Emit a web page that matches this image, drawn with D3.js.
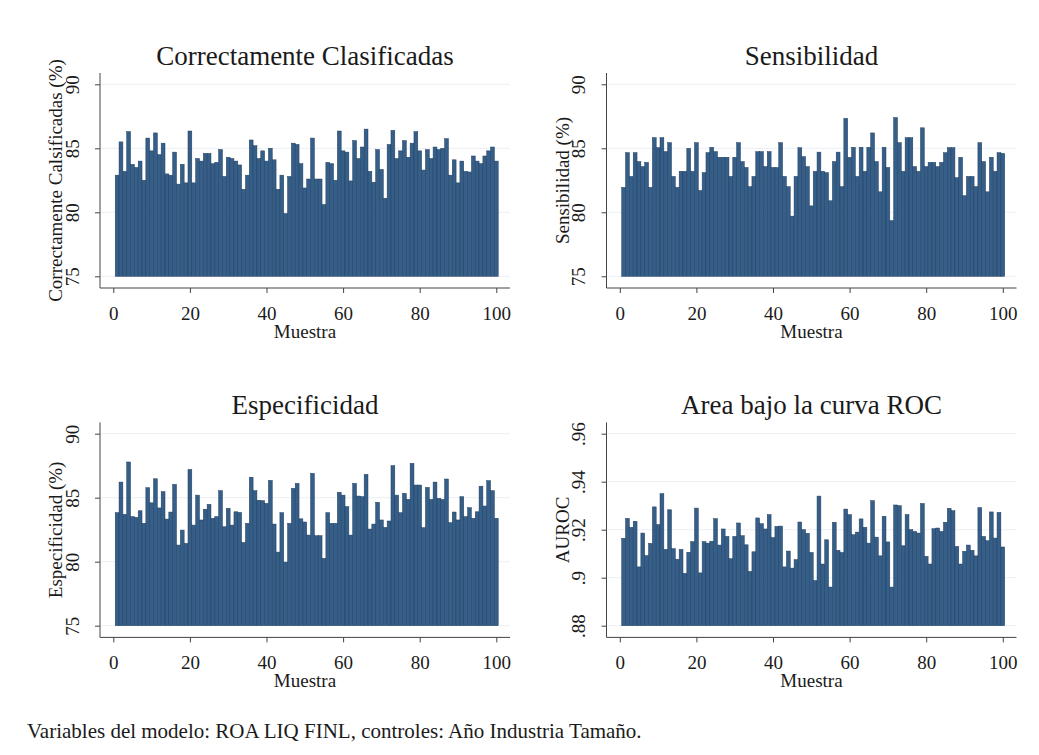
<!DOCTYPE html>
<html>
<head>
<meta charset="utf-8">
<script src="https://cdn.jsdelivr.net/npm/d3@7"></script>
<style>
  body { margin: 0; background: #fff; }
  svg { display: block; }
  text { font-family: "Liberation Serif", "Times New Roman", serif; fill: #1a1a1a; }
</style>
</head>
<body>
<svg id="chart" width="1039" height="755"></svg>
<script>
// valores (muestras 1..100)
var correctas = [82.9,85.5,83.2,86.3,83.75,83.5,84.0,82.5,85.8,84.8,86.2,84.5,85.4,83.0,82.9,84.7,82.2,83.75,82.3,86.35,
  82.3,84.2,84.0,84.6,84.6,83.8,83.9,84.9,82.8,84.3,84.2,84.0,83.7,81.8,82.9,85.65,85.2,84.2,84.8,84.0,
  85.0,84.1,81.8,82.9,79.9,82.8,85.4,85.3,83.8,81.9,82.6,85.8,82.6,82.6,80.6,83.9,83.8,82.5,86.35,84.8,
  84.7,82.45,85.6,84.2,85.1,86.5,83.2,82.35,84.9,83.35,81.1,85.3,86.4,84.2,84.8,85.6,84.3,85.4,86.3,84.8,
  83.3,84.9,84.2,85.1,84.9,85.0,85.75,82.9,84.1,82.3,84.0,83.2,83.15,84.4,84.0,83.8,84.4,84.8,85.1,84.0]
var sensibilidad = [81.95,84.66,82.8,84.66,83.96,83.57,83.9,81.95,85.83,85.05,85.83,84.74,85.44,82.8,81.95,83.2,83.2,85.0,83.2,85.44,
  81.7,83.1,84.66,85.08,84.74,84.3,84.3,84.3,82.8,84.3,85.44,83.96,83.5,82.0,82.8,84.74,84.74,83.57,84.74,83.5,
  83.5,85.44,82.8,82.0,79.7,82.8,85.05,84.35,83.57,80.5,83.2,84.7,83.2,83.1,80.9,83.96,84.7,82.0,87.34,84.3,
  85.08,82.8,85.08,83.2,85.08,86.2,83.96,81.6,85.08,83.5,79.35,87.4,85.44,83.2,85.83,85.83,83.57,83.2,86.6,83.57,
  83.9,83.9,83.57,83.9,84.66,85.05,85.05,82.7,84.3,81.3,82.8,82.8,82.0,85.44,83.96,81.6,84.3,83.2,84.66,84.6]
var especificidad = [83.83,86.22,83.7,87.79,83.52,83.46,83.98,83.0,85.78,84.6,86.48,84.2,85.47,83.33,83.88,86.04,81.3,82.47,81.43,87.2,
  82.86,85.2,83.26,84.1,84.48,83.39,83.52,85.55,82.73,84.17,82.86,83.9,83.85,81.5,83.0,86.6,85.55,84.8,84.77,84.56,
  86.35,82.94,80.75,83.83,79.97,83.0,85.73,86.12,83.35,83.1,82.08,86.9,82.03,82.03,80.26,83.83,83.0,83.0,85.42,85.2,
  84.3,82.08,86.12,85.13,85.08,86.82,82.55,82.94,84.64,83.26,82.68,83.18,87.5,85.2,83.83,85.34,84.87,87.68,85.99,85.99,
  82.66,85.8,84.87,86.22,84.95,84.87,86.46,83.05,83.88,83.26,85.08,83.52,84.22,83.39,83.9,85.9,84.35,86.33,85.55,83.39]
var auroc = [.9164,.9247,.9210,.9235,.9045,.9186,.9092,.9143,.9295,.9221,.9350,.9118,.9283,.9121,.9077,.9118,.9018,.9106,.9150,.9290,
  .9020,.9150,.9144,.9152,.9246,.9136,.9203,.9172,.9079,.9172,.9228,.9175,.9137,.9026,.9108,.9249,.9225,.9203,.9263,.9167,
  .9214,.9215,.9045,.9111,.9040,.9075,.9232,.9200,.9185,.9105,.8988,.9340,.9057,.9158,.8961,.9231,.9114,.9105,.9286,.9263,
  .9179,.9190,.9245,.9210,.9144,.9321,.9169,.9091,.9256,.9149,.8961,.9303,.9300,.9133,.9263,.9200,.9193,.9186,.9309,.9089,
  .9057,.9204,.9207,.9193,.9231,.9289,.9279,.9130,.9057,.9110,.9136,.9114,.9091,.9292,.9172,.9154,.9274,.9165,.9272,.9128]

var muestras = d3.range(1, 101)
var xTicks = [0, 20, 40, 60, 80, 100]
var pctTicks = [75, 80, 85, 90]
var aurocTicks = [.88, .9, .92, .94, .96]
var aurocLabels = [".88", ".9", ".92", ".94", ".96"]

var panels = [
  {title: "Correctamente Clasificadas", ylab: "Correctamente Calsificadas (%)", values: correctas, ticks: pctTicks, labels: pctTicks.map(String), ox: 0, oy: 0},
  {title: "Sensibilidad", ylab: "Sensibilidad (%)", values: sensibilidad, ticks: pctTicks, labels: pctTicks.map(String), ox: 506.5, oy: 0},
  {title: "Especificidad", ylab: "Especificidad (%)", values: especificidad, ticks: pctTicks, labels: pctTicks.map(String), ox: 0, oy: 349.4},
  {title: "Area bajo la curva ROC", ylab: "AUROC", values: auroc, ticks: aurocTicks, labels: aurocLabels, ox: 506.5, oy: 349.4}
]

// geometria comun de cada panel
var plot = {left: 100, right: 510, top: 73, bottom: 288}
var barFill = "#355e89"
var barStroke = "#213e5e"

var svg = d3.select("#chart")
svg.append("rect").attr("width", 1039).attr("height", 755).attr("fill", "#fff")

panels.forEach(function(p) {
  var g = svg.append("g").attr("transform", "translate(" + p.ox + "," + p.oy + ")")
  var lo = p.ticks[0], hi = p.ticks[p.ticks.length - 1]

  var x = d3.scaleLinear().domain([0, 100]).range([113.3, 496.3])
  var y = d3.scaleLinear().domain([lo, hi]).range([276.3, 84.3])

  // lineas de cuadricula
  g.append("g").selectAll("line").data(p.ticks).join("line")
    .attr("x1", plot.left + 1).attr("x2", plot.right)
    .attr("y1", d => y(d)).attr("y2", d => y(d))
    .attr("stroke", "#eaeff4").attr("stroke-width", 1)

  // barras
  g.append("g").selectAll("rect").data(p.values).join("rect")
    .attr("x", (d, i) => x(muestras[i] - 0.5))
    .attr("width", x(1.5) - x(0.5))
    .attr("y", d => y(d))
    .attr("height", d => y(lo) - y(d))
    .attr("fill", barFill)
    .attr("stroke", barStroke)
    .attr("stroke-width", 0.5)

  // eje x
  var xAxis = d3.axisBottom(x).tickValues(xTicks).tickSize(5).tickSizeOuter(0).tickPadding(4)
  var gx = g.append("g").attr("transform", "translate(0," + plot.bottom + ")").call(xAxis)
  gx.select(".domain").remove()
  gx.selectAll(".tick line").attr("stroke", "#444")
  gx.selectAll(".tick text")
    .attr("font-family", "Liberation Serif, serif").attr("font-size", 19)
    .attr("fill", "#1a1a1a").attr("y", 0).attr("dy", 32)

  // eje y
  var yAxis = d3.axisLeft(y).tickValues(p.ticks).tickFormat((d, i) => p.labels[i]).tickSize(5).tickSizeOuter(0)
  var gy = g.append("g").attr("transform", "translate(" + plot.left + ",0)").call(yAxis)
  gy.select(".domain").remove()
  gy.selectAll(".tick line").attr("stroke", "#444")
  gy.selectAll(".tick text")
    .attr("font-family", "Liberation Serif, serif").attr("font-size", 19)
    .attr("fill", "#1a1a1a")
    .attr("x", null).attr("dy", null)
    .attr("text-anchor", "middle")
    .attr("transform", "translate(-21.5,0) rotate(-90)")

  g.append("line").attr("x1", plot.left).attr("x2", plot.left)
    .attr("y1", plot.top).attr("y2", plot.bottom).attr("stroke", "#444")
  g.append("line").attr("x1", plot.left).attr("x2", plot.right)
    .attr("y1", plot.bottom).attr("y2", plot.bottom).attr("stroke", "#444")

  // titulos
  g.append("text").attr("x", (plot.left + plot.right) / 2).attr("y", 65)
    .attr("text-anchor", "middle").attr("font-size", 27).text(p.title)
  g.append("text").attr("x", (plot.left + plot.right) / 2).attr("y", 338)
    .attr("text-anchor", "middle").attr("font-size", 19).text("Muestra")
  g.append("text").attr("transform", "translate(62," + ((plot.top + plot.bottom) / 2) + ") rotate(-90)")
    .attr("text-anchor", "middle").attr("font-size", 19).text(p.ylab)
})

svg.append("text").attr("x", 27).attr("y", 738).attr("font-size", 21)
  .text("Variables del modelo: ROA LIQ FINL, controles: Año Industria Tamaño.")
</script>
</body>
</html>
